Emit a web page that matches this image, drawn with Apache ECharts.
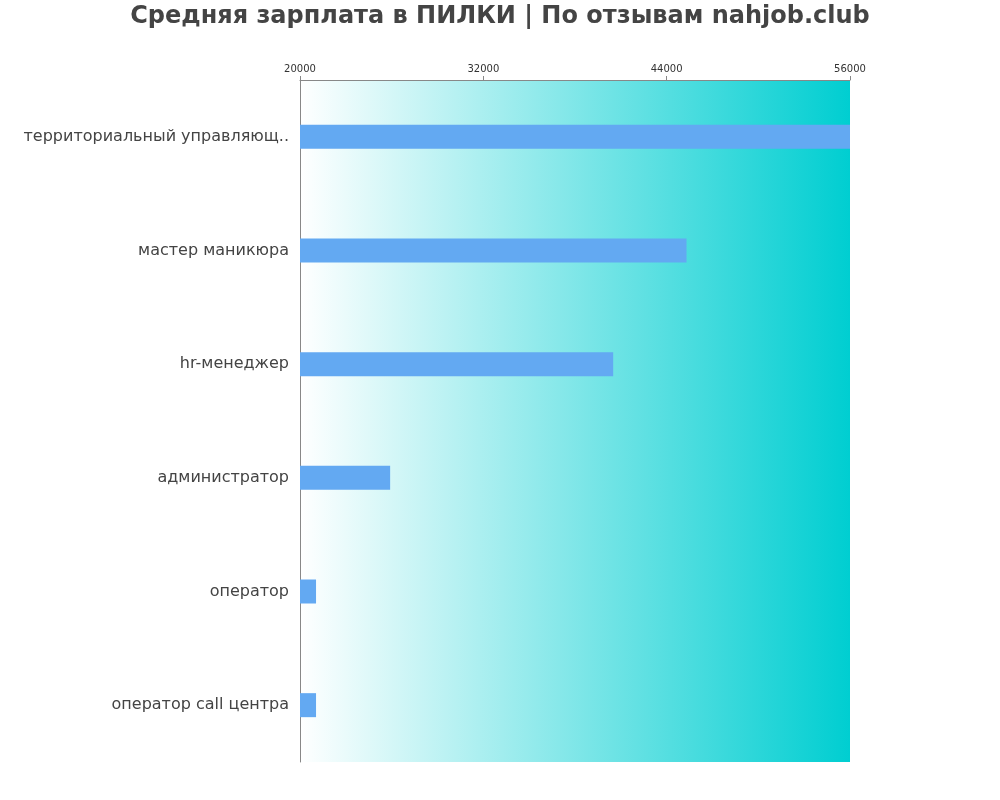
<!DOCTYPE html>
<html><head><meta charset="utf-8">
<script src="https://cdn.jsdelivr.net/npm/echarts@6/dist/echarts.min.js"></script>
<style>html,body{margin:0;padding:0;background:#fff}#c{width:1000px;height:800px}</style>
</head><body><div id="c"></div>
<script>
const titleText = 'Средняя зарплата в ПИЛКИ | По отзывам nahjob.club';
const categories = ['территориальный управляющ..', 'мастер маникюра', 'hr-менеджер', 'администратор', 'оператор', 'оператор call центра'];
const salaries = [56000, 45300, 40500, 25900, 21050, 21050];
const axisMin = 20000, axisMax = 56000, axisStep = 12000;

const chart = echarts.init(document.getElementById('c'));
chart.setOption({
  animation: false,
  title: { text: titleText, left: 'center', top: 0,
    textStyle: { fontFamily: 'DejaVu Sans', fontSize: 24, fontWeight: 'bold', color: '#444' } },
  grid: { left: 300, right: 150, top: 80, bottom: 38, show: true, borderWidth: 0,
    backgroundColor: { type: 'linear', x: 0, y: 0, x2: 1, y2: 0,
      colorStops: [{ offset: 0, color: '#ffffff' }, { offset: 1, color: '#00CED1' }] } },
  xAxis: { type: 'value', position: 'top', min: axisMin, max: axisMax, interval: axisStep,
    axisLine: { show: true, lineStyle: { color: '#888' } },
    axisTick: { show: true, length: 4, lineStyle: { color: '#888' } },
    splitLine: { show: false },
    axisLabel: { fontFamily: 'DejaVu Sans', fontSize: 10, color: '#333', margin: 6,
      formatter: v => String(v) } },
  yAxis: { type: 'category', inverse: true, data: categories,
    axisLine: { show: true, lineStyle: { color: '#888' } },
    axisTick: { show: false },
    axisLabel: { fontFamily: 'DejaVu Sans', fontSize: 16, color: '#444', margin: 11,
      padding: [0, 0, 7, 0] } },
  series: [{ type: 'bar', data: salaries, barWidth: 24, itemStyle: { color: '#63A9F2' } }]
});
</script></body></html>
